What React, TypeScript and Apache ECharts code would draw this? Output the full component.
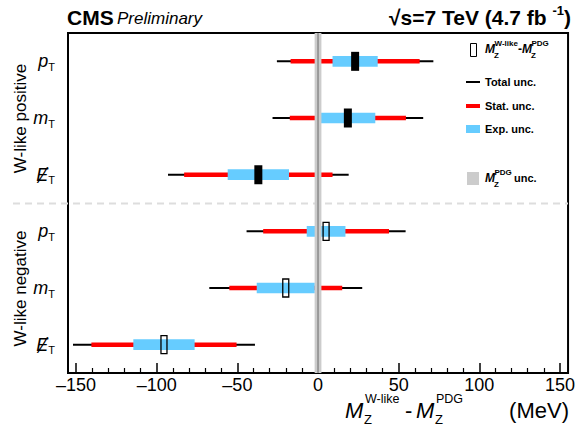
import React, { useEffect, useRef } from 'react';
import * as echarts from 'echarts';

// ---- data ----
const rowKeys = ['pT_pos', 'mT_pos', 'ET_pos', 'pT_neg', 'mT_neg', 'ET_neg'];
const rowSymbols = ['p', 'm', '\u0246', 'p', 'm', '\u0246'];
const groupNames = ['W-like positive', 'W-like negative'];
const centers = [23, 18.5, -37, 5, -20, -95.5];
const totalUnc = [48.5, 46.7, 56, 49.3, 47.4, 56.4];
const statUnc = [40, 36, 46, 39, 35, 45];
const expUnc = [14, 17, 19, 12, 18, 19];
const filledMarker = [1, 1, 1, 0, 0, 0];
const pdgUnc = 2.1;
const majorTicks = [-150, -100, -50, 0, 50, 100, 150];
const minorTicks = [-140, -130, -120, -110, -90, -80, -70, -60, -40, -30, -20, -10,
  10, 20, 30, 40, 60, 70, 80, 90, 110, 120, 130, 140];

const FONT = 'Liberation Sans, Arial, Helvetica, sans-serif';
const BLUE = '#66ccff';
const RED = '#ff0000';

function txt(text: string, x: number, y: number, size: number, opts: any = {}) {
  return {
    type: 'text',
    z: 10,
    style: {
      text,
      x,
      y,
      fill: '#000',
      fontSize: size,
      fontFamily: FONT,
      fontWeight: opts.bold ? 'bold' : 'normal',
      fontStyle: opts.italic ? 'italic' : 'normal',
      textAlign: opts.align || 'left',
      textVerticalAlign: 'middle',
    },
  };
}

export default function App() {
  const ref = useRef<HTMLDivElement>(null);
  useEffect(() => {
    if (!ref.current) return;
    const chart = echarts.init(ref.current, undefined, { renderer: 'svg' });

    const barData = centers.map((c, i) => [c, i, totalUnc[i], statUnc[i], expUnc[i]]);
    const markerData = centers.map((c, i) => [c, i, filledMarker[i]]);

    const option: any = {
      animation: false,
      backgroundColor: '#fff',
      textStyle: { fontFamily: FONT },
      grid: {
        left: 68, right: 9, top: 33, bottom: 54,
        show: true, borderColor: '#000', borderWidth: 2, backgroundColor: 'transparent',
      },
      xAxis: [
        {
          type: 'value', min: -155, max: 155, position: 'bottom',
          axisLine: { show: true, lineStyle: { color: '#000', width: 2 } },
          axisTick: { show: true, inside: true, length: 10, customValues: majorTicks, lineStyle: { color: '#000', width: 1.5 } },
          axisLabel: {
            show: true, customValues: majorTicks, margin: 3, fontSize: 18, color: '#000', fontFamily: FONT,
            formatter: (v: number) => String(v).replace('-', '\u2013'),
          },
          splitLine: { show: false },
        },
        {
          type: 'value', min: -155, max: 155, position: 'bottom',
          axisLine: { show: false },
          axisTick: { show: true, inside: true, length: 5, customValues: minorTicks, lineStyle: { color: '#000', width: 1.2 } },
          axisLabel: { show: false },
          splitLine: { show: false },
        },
      ],
      yAxis: {
        type: 'category', data: rowKeys, inverse: true,
        axisLine: { show: true, lineStyle: { color: '#000', width: 2 } },
        axisTick: { show: true, inside: true, length: 3, alignWithLabel: false, lineStyle: { color: '#000', width: 1.5 } },
        axisLabel: {
          margin: 13,
          formatter: (_v: string, i: number) => `{i|${rowSymbols[i]}}{s|T}`,
          rich: {
            i: { fontSize: 18, fontStyle: 'italic', fontFamily: FONT, color: '#000', lineHeight: 22 },
            s: { fontSize: 11, fontFamily: FONT, color: '#000', lineHeight: 13, verticalAlign: 'bottom' },
          },
        },
        splitLine: { show: false },
      },
      series: [
        {
          type: 'custom', name: 'uncertainties', z: 2, xAxisIndex: 0, data: barData,
          renderItem: (_p: any, api: any) => {
            const c = api.value(0), r = api.value(1);
            const t = api.value(2), s = api.value(3), e = api.value(4);
            const X = (v: number) => api.coord([v, r])[0];
            const y = api.coord([c, r])[1];
            return {
              type: 'group',
              children: [
                { type: 'line', shape: { x1: X(c - t), y1: y, x2: X(c + t), y2: y }, style: { stroke: '#000', lineWidth: 2 } },
                { type: 'line', shape: { x1: X(c - s), y1: y, x2: X(c + s), y2: y }, style: { stroke: RED, lineWidth: 4.5 } },
                { type: 'rect', shape: { x: X(c - e), y: y - 5.3, width: X(c + e) - X(c - e), height: 10.6 }, style: { fill: BLUE } },
              ],
            };
          },
        },
        {
          type: 'custom', name: 'pdg', z: 3, xAxisIndex: 0, data: [[0, 0, pdgUnc]],
          renderItem: (p: any, api: any) => {
            const c = api.value(0), u = api.value(2);
            const cs = p.coordSys;
            const x1 = api.coord([c - u, 0])[0], x2 = api.coord([c + u, 0])[0], x0 = api.coord([c, 0])[0];
            return {
              type: 'group',
              children: [
                { type: 'rect', shape: { x: x1, y: cs.y, width: x2 - x1, height: cs.height }, style: { fill: '#cccccc' } },
                { type: 'line', shape: { x1: x0, y1: cs.y, x2: x0, y2: cs.y + cs.height }, style: { stroke: '#808080', lineWidth: 1.3 } },
              ],
            };
          },
        },
        {
          type: 'custom', name: 'central', z: 4, xAxisIndex: 0, data: markerData,
          renderItem: (_p: any, api: any) => {
            const pt = api.coord([api.value(0), api.value(1)]);
            const f = api.value(2) === 1;
            const w = f ? 8 : 6, h = f ? 19 : 18;
            return {
              type: 'rect',
              shape: { x: pt[0] - w / 2, y: pt[1] - h / 2, width: w, height: h },
              style: f ? { fill: '#000' } : { fill: 'rgba(0,0,0,0)', stroke: '#000', lineWidth: 1.3 },
            };
          },
        },
      ],
      graphic: [
        // separator
        { type: 'line', z: 1, shape: { x1: 13, y1: 203.5, x2: 568, y2: 203.5 }, style: { stroke: '#dddddd', lineWidth: 2, lineDash: [7, 5] } },
        // title
        txt('CMS', 67, 17, 21, { bold: true }),
        txt('Preliminary', 117, 18, 17, { italic: true }),
        {
          type: 'text', z: 10,
          style: {
            x: 571, y: 17, textAlign: 'right', textVerticalAlign: 'middle',
            text: '{b|\u221As=7 TeV (4.7 fb }{u|-1}{b|)}',
            rich: {
              b: { fontSize: 21, fontWeight: 'bold', fontFamily: FONT, fill: '#000', lineHeight: 26 },
              u: { fontSize: 13, fontWeight: 'bold', fontFamily: FONT, fill: '#000', lineHeight: 14, verticalAlign: 'top' },
            },
          },
        },
        // group labels
        { type: 'text', z: 10, x: 20, y: 118.5, rotation: Math.PI / 2,
          style: { text: groupNames[0], x: 0, y: 0, fontSize: 17, fontFamily: FONT, fill: '#000', textAlign: 'center', textVerticalAlign: 'middle' } },
        { type: 'text', z: 10, x: 20, y: 288.5, rotation: Math.PI / 2,
          style: { text: groupNames[1], x: 0, y: 0, fontSize: 17, fontFamily: FONT, fill: '#000', textAlign: 'center', textVerticalAlign: 'middle' } },
        // x axis name
        txt('M', 345, 410, 22, { italic: true }),
        txt('Z', 364, 419.5, 13),
        txt('W-like', 365, 399, 12.5),
        txt('-', 405, 410, 22),
        txt('M', 416, 410, 22, { italic: true }),
        txt('Z', 435, 419.5, 13),
        txt('PDG', 436, 399, 12.5),
        txt('(MeV)', 569, 410, 22, { align: 'right' }),
        // legend
        { type: 'rect', z: 10, shape: { x: 470.5, y: 43.5, width: 6, height: 13 }, style: { fill: 'rgba(0,0,0,0)', stroke: '#000', lineWidth: 1 } },
        txt('M', 485, 49, 12, { bold: true, italic: true }),
        txt('Z', 494, 55, 8, { bold: true }),
        txt('W-like', 494.5, 43, 8, { bold: true }),
        txt('-', 518, 49, 12, { bold: true }),
        txt('M', 522, 49, 12, { bold: true, italic: true }),
        txt('Z', 531, 55, 8, { bold: true }),
        txt('PDG', 531.5, 43, 8, { bold: true }),
        { type: 'line', z: 10, shape: { x1: 466, y1: 82, x2: 480, y2: 82 }, style: { stroke: '#000', lineWidth: 2 } },
        txt('Total unc.', 485, 82, 11, { bold: true }),
        { type: 'line', z: 10, shape: { x1: 466, y1: 106, x2: 480, y2: 106 }, style: { stroke: RED, lineWidth: 4 } },
        txt('Stat. unc.', 485, 106, 11, { bold: true }),
        { type: 'rect', z: 10, shape: { x: 466, y: 125, width: 14, height: 8 }, style: { fill: BLUE } },
        txt('Exp. unc.', 485, 129, 11, { bold: true }),
        { type: 'rect', z: 10, shape: { x: 467, y: 172, width: 12, height: 13 }, style: { fill: '#cccccc' } },
        txt('M', 485, 178, 12, { bold: true, italic: true }),
        txt('Z', 494, 184, 8, { bold: true }),
        txt('PDG', 494.5, 172, 8, { bold: true }),
        txt('unc.', 514, 178, 11, { bold: true }),
      ],
    };
    chart.setOption(option);
    return () => chart.dispose();
  }, []);
  return <div ref={ref} style={{ position: 'absolute', left: 0, top: 0, width: 578, height: 427 }} />;
}
